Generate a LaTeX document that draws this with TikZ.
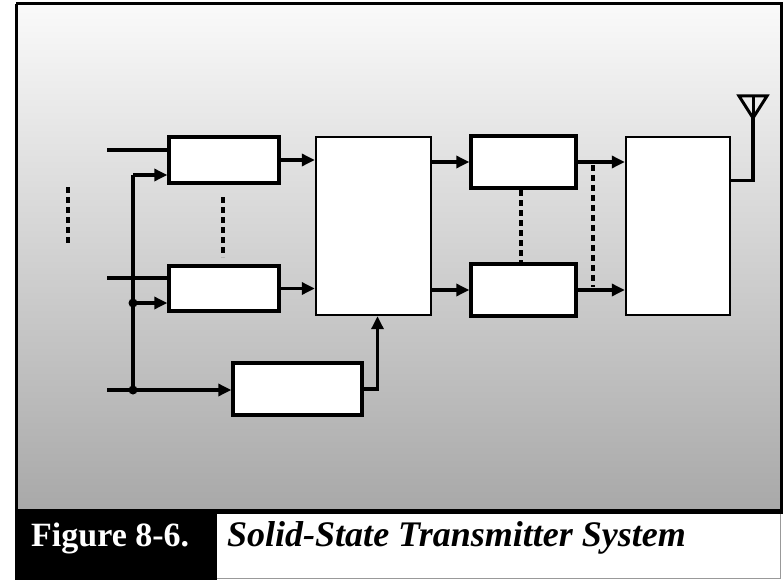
\documentclass[tikz,border=0pt]{standalone}
\usepackage{fontspec}
\setmainfont{Liberation Serif}
\usetikzlibrary{arrows.meta}
\tikzset{
  thickbox/.style={draw=black, line width=3.4pt, fill=white, inner sep=0pt, minimum width=#1},
  thinbox/.style={draw=black, line width=2.4pt, fill=white, inner sep=0pt},
  conn/.style={line width=3.2pt, draw=black},
  arr/.style={conn, -{Triangle[length=13pt,width=12pt]}},
  dashline/.style={line width=3.2pt, dash pattern=on 6pt off 4pt},
  dotnode/.style={circle, fill=black, inner sep=0pt, minimum size=9pt},
}
\begin{document}
\begin{tikzpicture}[x=1pt,y=-1pt]
\useasboundingbox (0,0) rectangle (783,580);
% panel with gradient
\shade[top color=white!98!black, bottom color=black!34] (16,4) rectangle (781,511);
\draw[line width=3pt] (16,4) -- (781,4) -- (781,511);
\draw[line width=3pt] (16,4) -- (16,580);
% caption area
\fill[black] (15,511) rectangle (217,580);
\fill[black] (15,509) rectangle (783,514);
\fill[white] (217,514) rectangle (780,578);
\draw[black!40, line width=1pt] (780,514) -- (780,578) -- (217,578);
\node[anchor=base west, text=white, font=\fontsize{34}{36}\selectfont\bfseries, inner sep=0pt] (fig) at (31,546) {Figure 8-6.};
\node[anchor=base west, text=black, font=\fontsize{36}{38}\selectfont\bfseries\itshape, inner sep=0pt] (title) at (227,546) {Solid-State Transmitter System};
% boxes
\node[thickbox=110pt, minimum height=46pt] (A1) at (224,160) {};
\node[thickbox=110pt, minimum height=45pt] (A2) at (224,288.5) {};
\node[thickbox=129pt, minimum height=52pt] (B) at (297.5,389) {};
\node[thinbox, minimum width=115pt, minimum height=178pt] (C) at (373.5,226) {};
\node[thickbox=105pt, minimum height=52pt] (D1) at (523.5,162) {};
\node[thickbox=105pt, minimum height=52pt] (D2) at (523.5,290) {};
\node[thinbox, minimum width=104pt, minimum height=178pt] (E) at (678,226) {};
% input coordinates
\coordinate (in1) at (107,150);
\coordinate (in2) at (107,278);
\coordinate (in3) at (107,390);
\coordinate (bustop) at (133,175);
\node[dotnode] (j1) at (133,303) {};
\node[dotnode] (j2) at (133,390) {};
\coordinate (ant) at (753,118);
% input lines
\draw[conn] (in1) -- (in1 -| A1.west);
\draw[conn] (in2) -- (in2 -| A2.west);
\draw[arr] (in3) -- (in3 -| B.west);
\draw[conn] (j2.center) -- (bustop);
\draw[arr] (bustop) -- (bustop -| A1.west);
\draw[arr] (j1.center) -- (j1 -| A2.west);
% to combiner
\draw[arr] (A1.east) -- (A1.east -| C.west);
\draw[arr] (A2.east) -- (A2.east -| C.west);
\draw[arr] (B.east) -| ([xshift=4pt]C.south);
% combiner to D
\draw[arr] (C.east |- D1) -- (D1.west);
\draw[arr] (C.east |- D2) -- (D2.west);
% D to E
\draw[arr] (D1.east) -- (D1.east -| E.west);
\draw[arr] (D2.east) -- (D2.east -| E.west);
% antenna
\draw[conn] ([yshift=-45pt]E.north east) -| (ant);
\draw[line width=3pt, line join=miter] (739,96) -- (767,96) -- (ant) -- cycle;
\draw[line width=3pt] (753,96) -- (ant);
% dashed lines
\draw[dashline] (68,187) -- (68,243);
\draw[dashline] (223,197) -- (223,257);
\draw[dashline] (521,190) -- (521,262);
\draw[dashline] (593,165) -- (593,287);
\end{tikzpicture}
\end{document}
